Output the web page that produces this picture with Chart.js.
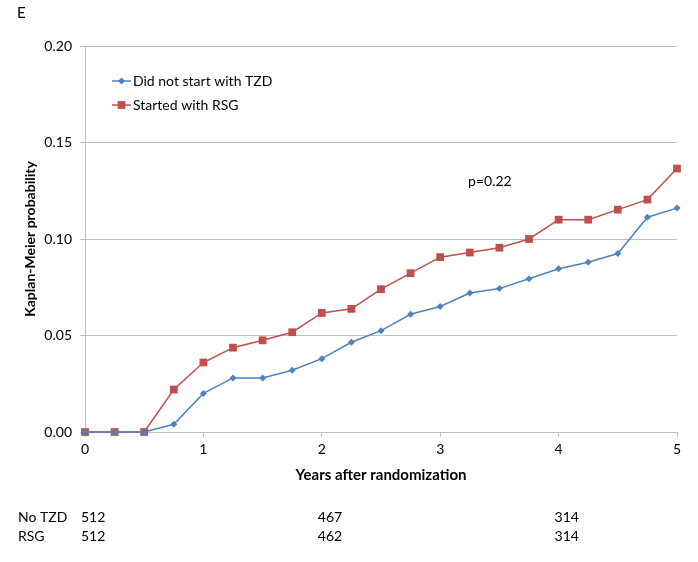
<!DOCTYPE html>
<html>
<head>
<meta charset="utf-8">
<script src="https://cdn.jsdelivr.net/npm/chart.js@4"></script>
<style>
  html, body { margin: 0; padding: 0; background: #fff; }
  #wrap { width: 698px; height: 562px; }
</style>
</head>
<body>
<div id="wrap"><canvas id="km"></canvas></div>
<script>
// data
var years = [0, 0.25, 0.5, 0.75, 1, 1.25, 1.5, 1.75, 2, 2.25, 2.5, 2.75, 3, 3.25, 3.5, 3.75, 4, 4.25, 4.5, 4.75, 5];
var noTzd = [0, 0, 0, 0.004, 0.020, 0.028, 0.028, 0.032, 0.038, 0.0465, 0.0525, 0.061, 0.065, 0.072, 0.0743, 0.0794, 0.0846, 0.088, 0.0925, 0.1113, 0.116];
var rsg   = [0, 0, 0, 0.022, 0.036, 0.0437, 0.0475, 0.0517, 0.0617, 0.0638, 0.074, 0.0823, 0.0906, 0.093, 0.0955, 0.100, 0.110, 0.110, 0.1152, 0.1204, 0.1365];
var seriesNames = ["Did not start with TZD", "Started with RSG"];
var riskYears = [0, 2, 4];
var riskNoTzd = [512, 467, 314];
var riskRsg = [512, 462, 314];
var yTicks = [0, 0.05, 0.10, 0.15, 0.20];

var FONT = "Lato, 'Open Sans', sans-serif";
var blue = "#4F81BD", red = "#C0504D";

function pts(vals) {
  return years.map(function(x, i) { return { x: x, y: vals[i] }; });
}

// legend, panel letter, p-value and numbers-at-risk table
var extras = {
  id: "extras",
  afterDraw: function(chart) {
    var ctx = chart.ctx, xs = chart.scales.x, ys = chart.scales.y;
    ctx.save();
    ctx.fillStyle = "#000";
    ctx.font = "15px " + FONT;
    ctx.textBaseline = "middle";
    ctx.textAlign = "left";
    ctx.fillText("E", 17, 13);

    // legend
    var items = [[seriesNames[0], blue, "rectRot", 3.5], [seriesNames[1], red, "rect", 5.5]];
    items.forEach(function(it, i) {
      var y = 81 + i * 24;
      ctx.strokeStyle = it[1];
      ctx.lineWidth = 1.5;
      ctx.beginPath(); ctx.moveTo(112, y); ctx.lineTo(131, y); ctx.stroke();
      ctx.fillStyle = it[1];
      Chart.helpers.drawPoint(ctx, { pointStyle: it[2], radius: it[3], borderWidth: 0 }, 121.5, y);
      ctx.fillStyle = "#000";
      ctx.font = "14px " + FONT;
      ctx.fillText(it[0], 133, y);
    });

    // p value
    ctx.textAlign = "center";
    ctx.fillText("p=0.22", xs.getPixelForValue(3.42), ys.getPixelForValue(0.130));

    // numbers at risk
    ctx.textAlign = "left";
    ctx.fillText("No TZD", 18, 517);
    ctx.fillText("RSG", 18, 536);
    riskYears.forEach(function(yr, i) {
      var px = xs.getPixelForValue(yr) - 4;
      ctx.fillText(String(riskNoTzd[i]), px, 517);
      ctx.fillText(String(riskRsg[i]), px, 536);
    });
    ctx.restore();
  }
};

new Chart(document.getElementById("km"), {
  type: "line",
  data: {
    datasets: [
      {
        label: seriesNames[0], data: pts(noTzd), clip: false,
        borderColor: blue, backgroundColor: blue, borderWidth: 1.5,
        pointStyle: "rectRot", pointRadius: 3.5, pointBorderWidth: 0, tension: 0
      },
      {
        label: seriesNames[1], data: pts(rsg), clip: false,
        borderColor: red, backgroundColor: red, borderWidth: 1.5,
        pointStyle: "rect", pointRadius: 5.5, pointBorderWidth: 0, tension: 0
      }
    ]
  },
  options: {
    responsive: true,
    maintainAspectRatio: false,
    animation: false,
    layout: { padding: { left: 0, right: 21, top: 46, bottom: 74 } },
    plugins: { legend: { display: false }, tooltip: { enabled: false } },
    scales: {
      x: {
        type: "linear", min: 0, max: 5,
        ticks: { stepSize: 1, color: "#000", font: { family: FONT, size: 14 }, padding: 4 },
        grid: { drawOnChartArea: false, drawTicks: true, tickLength: 5, color: "#bfbfbf" },
        border: { color: "#bfbfbf" },
        title: { display: true, text: "Years after randomization", color: "#000",
                 font: { family: FONT, size: 15, weight: "bold" }, padding: { top: 4, bottom: 4 } },
        afterFit: function(s) { s.height = 56; }
      },
      y: {
        min: 0, max: 0.2,
        afterBuildTicks: function(s) { s.ticks = yTicks.map(function(v) { return { value: v }; }); },
        ticks: { color: "#000", font: { family: FONT, size: 14 }, padding: 8,
                 callback: function(v) { return v.toFixed(2); } },
        grid: { color: "#bfbfbf", tickLength: 5 },
        border: { color: "#bfbfbf" },
        title: { display: true, text: "Kaplan-Meier probability", color: "#000",
                 font: { family: FONT, size: 14, weight: "bold" }, padding: { top: 22, bottom: 0 } },
        afterFit: function(s) { s.width = 85; }
      }
    }
  },
  plugins: [extras]
});
</script>
</body>
</html>
